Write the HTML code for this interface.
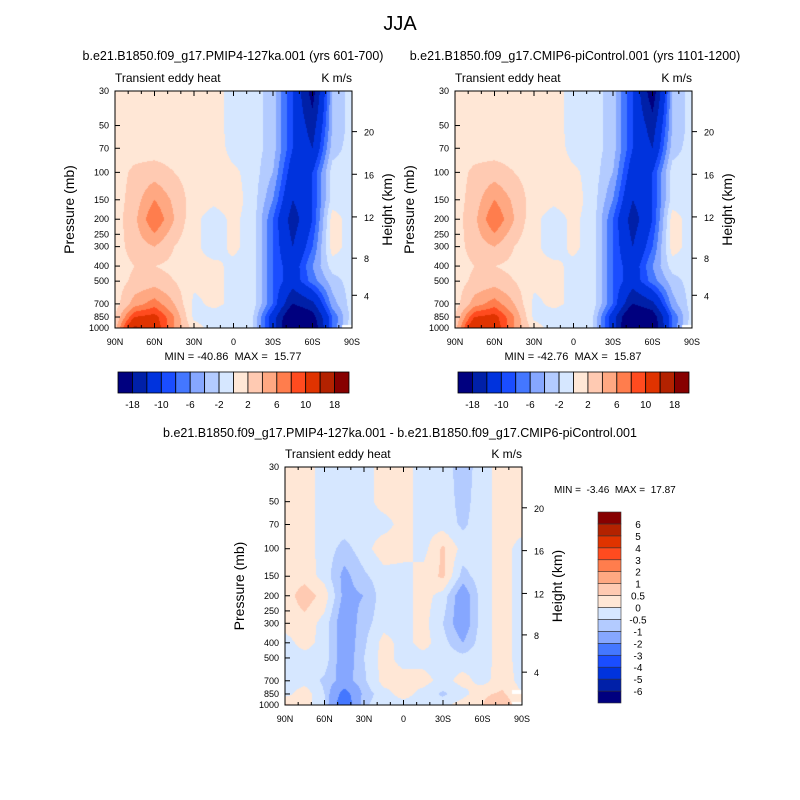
<!DOCTYPE html>
<html><head><meta charset="utf-8"><style>
body{margin:0;background:#fff;width:800px;height:800px;position:relative;overflow:hidden;font-family:"Liberation Sans",sans-serif}
canvas{position:absolute}
svg{position:absolute;left:0;top:0}
text{white-space:pre}
</style></head><body>
<canvas id="c1" style="left:115px;top:91px" width="237" height="237"></canvas>
<canvas id="c2" style="left:455px;top:91px" width="237" height="237"></canvas>
<canvas id="c3" style="left:285px;top:467px" width="237" height="238"></canvas>
<svg id="s" width="800" height="800"></svg>
<script>
const lats=[90,75,60,45,30,15,0,-15,-30,-45,-60,-75,-90];
const plevs=[30,50,70,100,150,200,300,400,500,700,850,1000];
const pTicks=[30,50,70,100,150,200,250,300,400,500,700,850,1000];
const xTickLabels=["90N","60N","30N","0","30S","60S","90S"];
const hTicks=[4,8,12,16,20];
const colors=["#00007f","#0020a8","#0033dd","#1a4dff","#4477ff","#86a7ff","#b3cbff","#d6e7ff","#ffe7d6","#ffcab2","#ffa882","#ff7d4d","#ff4b1f","#e03300","#b32200","#870000"];
const levelsA=[-18,-14,-10,-8,-6,-4,-2,0,2,4,6,8,10,14,18];
const labelsA=["-18","-10","-6","-2","2","6","10","18"];
const levelsD=[-6,-5,-4,-3,-2,-1,-0.5,0,0.5,1,2,3,4,5,6];
const labelsD=["-6","-5","-4","-3","-2","-1","-0.5","0","0.5","1","2","3","4","5","6"];
const fieldA=[
[1,1,1,1,1,1,-1,-1,-3,-10,-20,-4,-1],
[1,1,1,1,1,1,-1,-1,-3,-10,-16,-4,-1],
[1,1,1,1,1,1.5,-1,-1,-3,-10,-14,-3,-1],
[1,2.5,3,2,1,1.5,0.5,-1,-4,-12,-10,-1,-1],
[1,3,6,3.5,1,0.5,1,-1,-6,-14,-10,-1,-1],
[1,3.5,8,4,0.5,-1,0.5,-1,-8,-16,-10,1,-1],
[1,3,4,2,0.5,-1,0.5,-1,-8,-14,-8,1,-1],
[1,2,2,1.5,0.5,0.5,-0.5,-1,-8,-12,-6,-1,-1],
[1,2.5,3,2,0.5,0.5,-0.5,-1,-8,-12,-7,-3,-1],
[1,5,7,4,-0.5,0.5,-0.5,-1,-8,-18,-15,-5,-1],
[2,10,11,6,-0.5,-1,-0.5,-2,-12,-24,-20,-8,-1],
[3,15,12,6,1,-1,-0.5,-2,-12,-26,-22,-8,null]];
const fieldB=[
[1,1,1,1,1,1,-1,-1,-3,-10,-21,-4,-1],
[1,1,1,1,1,1,-1,-1,-3,-10,-16,-4,-1],
[1,1,1,1,1,1.5,-1,-1,-3,-10,-14,-3,-1],
[1,2.5,3,2,1,1.5,0.5,-1,-4,-12,-10,-1,-1],
[1,3,6,3.5,1,0.5,1,-1,-6,-14,-10,-1,-1],
[1,3.5,8,4,0.5,-1,0.5,-1,-8,-16,-10,1,-1],
[1,3,4,2,0.5,-1,0.5,-1,-8,-14,-8,1,-1],
[1,2,2,1.5,0.5,0.5,-0.5,-1,-8,-12,-6,-1,-1],
[1,2.5,3,2,0.5,0.5,-0.5,-1,-8,-12,-7,-3,-1],
[1,5,7,4,-0.5,0.5,-0.5,-1,-8,-18,-15,-5,-1],
[2,10,11,6,-0.5,-1,-0.5,-2,-12,-25,-21,-8,-1],
[3,14,12,6,1,-1,-0.5,-2,-12,-27,-22,-8,null]];
const fieldD=[
[0.2,0.2,-0.2,-0.2,-0.2,0.2,0.2,-0.2,-0.2,-0.8,-0.2,0.2,0.2],
[0.2,0.2,-0.2,-0.2,-0.2,0.2,0.2,-0.2,-0.2,-0.7,-0.2,0.2,0.2],
[0.2,0.2,-0.2,-0.2,-0.2,-0.2,0.2,-0.2,-0.2,-0.6,-0.2,0.2,0.2],
[0.2,0.2,-0.2,-0.7,-0.2,0.3,0.2,-0.2,0.6,-0.2,-0.2,0.2,-0.2],
[0.2,0.3,-0.2,-1.2,-0.6,-0.2,-0.2,0.2,0.6,-0.7,-0.2,0.2,-0.2],
[0.2,0.8,0.3,-1.2,-1,-0.2,-0.2,0.2,-0.2,-1.5,-0.2,0.2,-0.2],
[0.2,0.3,-0.2,-1.5,-0.7,-0.2,-0.2,0.2,-0.5,-1.5,-0.2,0.2,-0.2],
[-0.2,0.2,-0.2,-1.5,-0.6,0.2,-0.2,0.2,-0.3,-1,-0.2,0.2,-0.2],
[-0.2,-0.2,-0.2,-1.5,-0.5,0.2,-0.2,-0.2,-0.2,-0.3,-0.2,0.2,-0.2],
[-0.2,-0.2,-0.6,-1.3,-0.6,0.2,0.2,0.2,-0.2,0.2,-0.2,0.3,-0.2],
[-0.2,0.3,-0.5,-2.5,-0.8,-0.2,0.2,-0.2,-0.6,-0.2,0.4,0.6,null],
[0.6,0.3,-0.5,-3,-0.6,-0.2,-0.2,-0.2,-0.2,0.3,0.5,1,null]];

function yOfP(p,top,h){return top+h*Math.log(p/30)/Math.log(1000/30);}
function xOfLat(l,left,w){return left+w*(90-l)/180;}
function pOfZ(z){return z<=11?1013.25*Math.pow(1-z/44.33,5.256):226.3*Math.exp(-(z-11)/6.34);}
function sample(f,lat,p){
  const fc=(90-lat)/15;let i=Math.min(11,Math.floor(fc));const tx=fc-i;
  let lp=Math.log(p),j=0;while(j<10&&Math.log(plevs[j+1])<lp)j++;
  const ty=(lp-Math.log(plevs[j]))/(Math.log(plevs[j+1])-Math.log(plevs[j]));
  const a=f[j][i],b=f[j][i+1],c=f[j+1][i],d=f[j+1][i+1];
  if(a==null||b==null||c==null||d==null){if(ty>0.7&&tx>0.5)return null;}
  const v=(q)=>q==null?0:q;
  return (v(a)*(1-tx)+v(b)*tx)*(1-ty)+(v(c)*(1-tx)+v(d)*tx)*ty;
}
function colorFor(v,lev){let k=0;while(k<lev.length&&v>=lev[k])k++;return colors[k];}
function drawField(id,f,lev){
  const cv=document.getElementById(id),ctx=cv.getContext('2d');const W=cv.width,H=cv.height;
  for(let py=0;py<H;py+=1){const p=30*Math.exp((py+0.5)/H*Math.log(1000/30));
    for(let px=0;px<W;px+=1){const lat=90-(px+0.5)/W*180;const v=sample(f,lat,p);
      ctx.fillStyle=v==null?'#fff':colorFor(v,lev);ctx.fillRect(px,py,1,1);}}
}
drawField('c1',fieldA,levelsA);drawField('c2',fieldB,levelsA);drawField('c3',fieldD,levelsD);

const S=document.getElementById('s');const NS='http://www.w3.org/2000/svg';
function el(t,a,txt){const e=document.createElementNS(NS,t);for(const k in a)e.setAttribute(k,a[k]);if(txt!=null)e.textContent=txt;S.appendChild(e);return e;}
function txt(x,y,s,size,anchor,name,rot){const e=el('text',{x:x,y:y,'font-size':size,'text-anchor':anchor||'start',fill:'#000','font-family':'Liberation Sans, sans-serif'},s);
  if(rot)e.setAttribute('transform','rotate(-90 '+x+' '+y+')');
  
  return e;}
function axes(L,T,W,H,tag){
  const r=el('rect',{x:L,y:T,width:W,height:H,fill:'none',stroke:'#000','stroke-width':1});
  
  
  for(let l=90;l>=-90;l-=10){const x=xOfLat(l,L,W);const maj=(l%30===0);const len=maj?5:3;
    el('line',{x1:x,y1:T+H,x2:x,y2:T+H-len,stroke:'#000'});el('line',{x1:x,y1:T,x2:x,y2:T+len,stroke:'#000'});}
  xTickLabels.forEach((s,i)=>{txt(L+W*i/6,T+H+17,s,9,'middle',tag+'-x-tick-label');});
  pTicks.forEach(p=>{const y=yOfP(p,T,H);el('line',{x1:L,y1:y,x2:L+5,y2:y,stroke:'#000'});
    txt(L-6,y+3,String(p),9,'end',tag+'-y-tick-label');});
  hTicks.forEach(z=>{const y=yOfP(pOfZ(z),T,H);
    el('line',{x1:L+W,y1:y,x2:L+W+5,y2:y,stroke:'#000'});txt(L+W+12,y+4,String(z),9,'start',tag+'-height-tick-label');});
  txt(L-41,T+H/2,'Pressure (mb)',14,'middle',tag+'-y-axis-title',true);
  txt(L+W+40,T+H/2,'Height (km)',14,'middle',tag+'-y2-axis-title',true);
  txt(L,T-9,'Transient eddy heat',12,'start',tag+'-long-name');
  txt(L+W,T-9,'K m/s',12,'end',tag+'-units');
}
function hbar(L,T,W,H,tag){
  colors.forEach((c,i)=>{const r=el('rect',{x:L+W*i/16,y:T,width:W/16,height:H,fill:c,stroke:'#000','stroke-width':0.8});
    
    });
  labelsA.forEach((s,i)=>{txt(L+W*(2*i+1)/16,T+H+15,s,10,'middle',tag+'-label');});
}
axes(115,91,237,237,'panel1');axes(455,91,237,237,'panel2');axes(285,467,237,238,'panel3');
hbar(118,372,231,21,'colorbar1');hbar(458,372,231,21,'colorbar2');
colors.forEach((c,i)=>{const r=el('rect',{x:598,y:703-191*(i+1)/16,width:23,height:191/16,fill:c,stroke:'#333','stroke-width':0.6});
  
  });
labelsD.forEach((s,i)=>{txt(638,703-191*(i+1)/16+4,s,10,'middle','colorbar3-label');});
txt(400,30,'JJA',20,'middle','figure-title');
txt(233,60,'b.e21.B1850.f09_g17.PMIP4-127ka.001 (yrs 601-700)',12.5,'middle','panel1-title');
txt(575,60,'b.e21.B1850.f09_g17.CMIP6-piControl.001 (yrs 1101-1200)',12.5,'middle','panel2-title');
txt(400,437,'b.e21.B1850.f09_g17.PMIP4-127ka.001 - b.e21.B1850.f09_g17.CMIP6-piControl.001',12.5,'middle','panel3-title');
txt(233,360,'MIN = -40.86  MAX =  15.77',11,'middle','panel1-minmax');
txt(573,360,'MIN = -42.76  MAX =  15.87',11,'middle','panel2-minmax');
txt(554,493,'MIN =  -3.46  MAX =  17.87',10,'start','panel3-minmax');
</script>
</body></html>
